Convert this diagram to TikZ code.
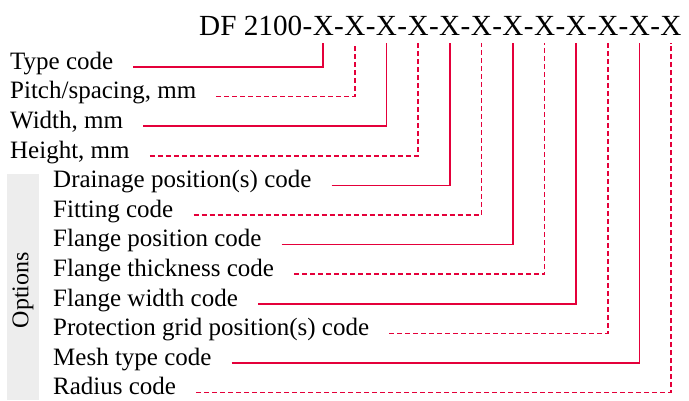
\documentclass[tikz,border=0pt]{standalone}
\usepackage{fontspec}
\setmainfont{Liberation Serif}
\usepackage{tikz}
\usetikzlibrary{calc}

\definecolor{codered}{RGB}{228,0,58}
\definecolor{optgray}{RGB}{237,237,237}

\tikzset{
  title/.style={inner sep=0pt, font=\fontsize{29.2}{34}\selectfont},
  label/.style={inner sep=0pt, anchor=mid west, font=\fontsize{25}{30}\selectfont},
  leader/.style={draw=codered, line width=1.6pt},
  dashlead/.style={leader, dash pattern=on 5pt off 3pt}
}

\begin{document}
\begin{tikzpicture}[x=1pt,y=-1pt]
    \useasboundingbox (0,0) rectangle (689,400);

    \fill[optgray] (7,174) rectangle (39,400);
    \node[rotate=90, inner sep=0pt, font=\fontsize{24}{28}\selectfont] (opt) at (23,290) {Options};

    \node[title, anchor=base west, alias=x0] (df) at (199,35) {DF 2100};
    \foreach \i [count=\j from 0] in {1,...,12} {
        \node[title, anchor=base west] (h\i) at (x\j.base east) {-};
        \node[title, anchor=base west] (x\i) at (h\i.base east) {X};
    }

    \foreach \lab [count=\i] in {Type code, {Pitch/spacing, mm}, {Width, mm}, {Height, mm},
        Drainage position(s) code, Fitting code, Flange position code, Flange thickness code,
        Flange width code, Protection grid position(s) code, Mesh type code, Radius code} {
        \pgfmathsetmacro{\lx}{\i<5 ? 10 : 53}
        \node[label] (l\i) at (\lx, {67+29.6*(\i-1)}) {\lab};
        \ifodd\i
            \draw[leader] ([xshift=20pt]l\i.mid east) -| ([yshift=-8pt]x\i.south);
        \else
            \draw[dashlead] ([xshift=20pt]l\i.mid east) -| ([yshift=-8pt]x\i.south);
        \fi
    }
\end{tikzpicture}
\end{document}
